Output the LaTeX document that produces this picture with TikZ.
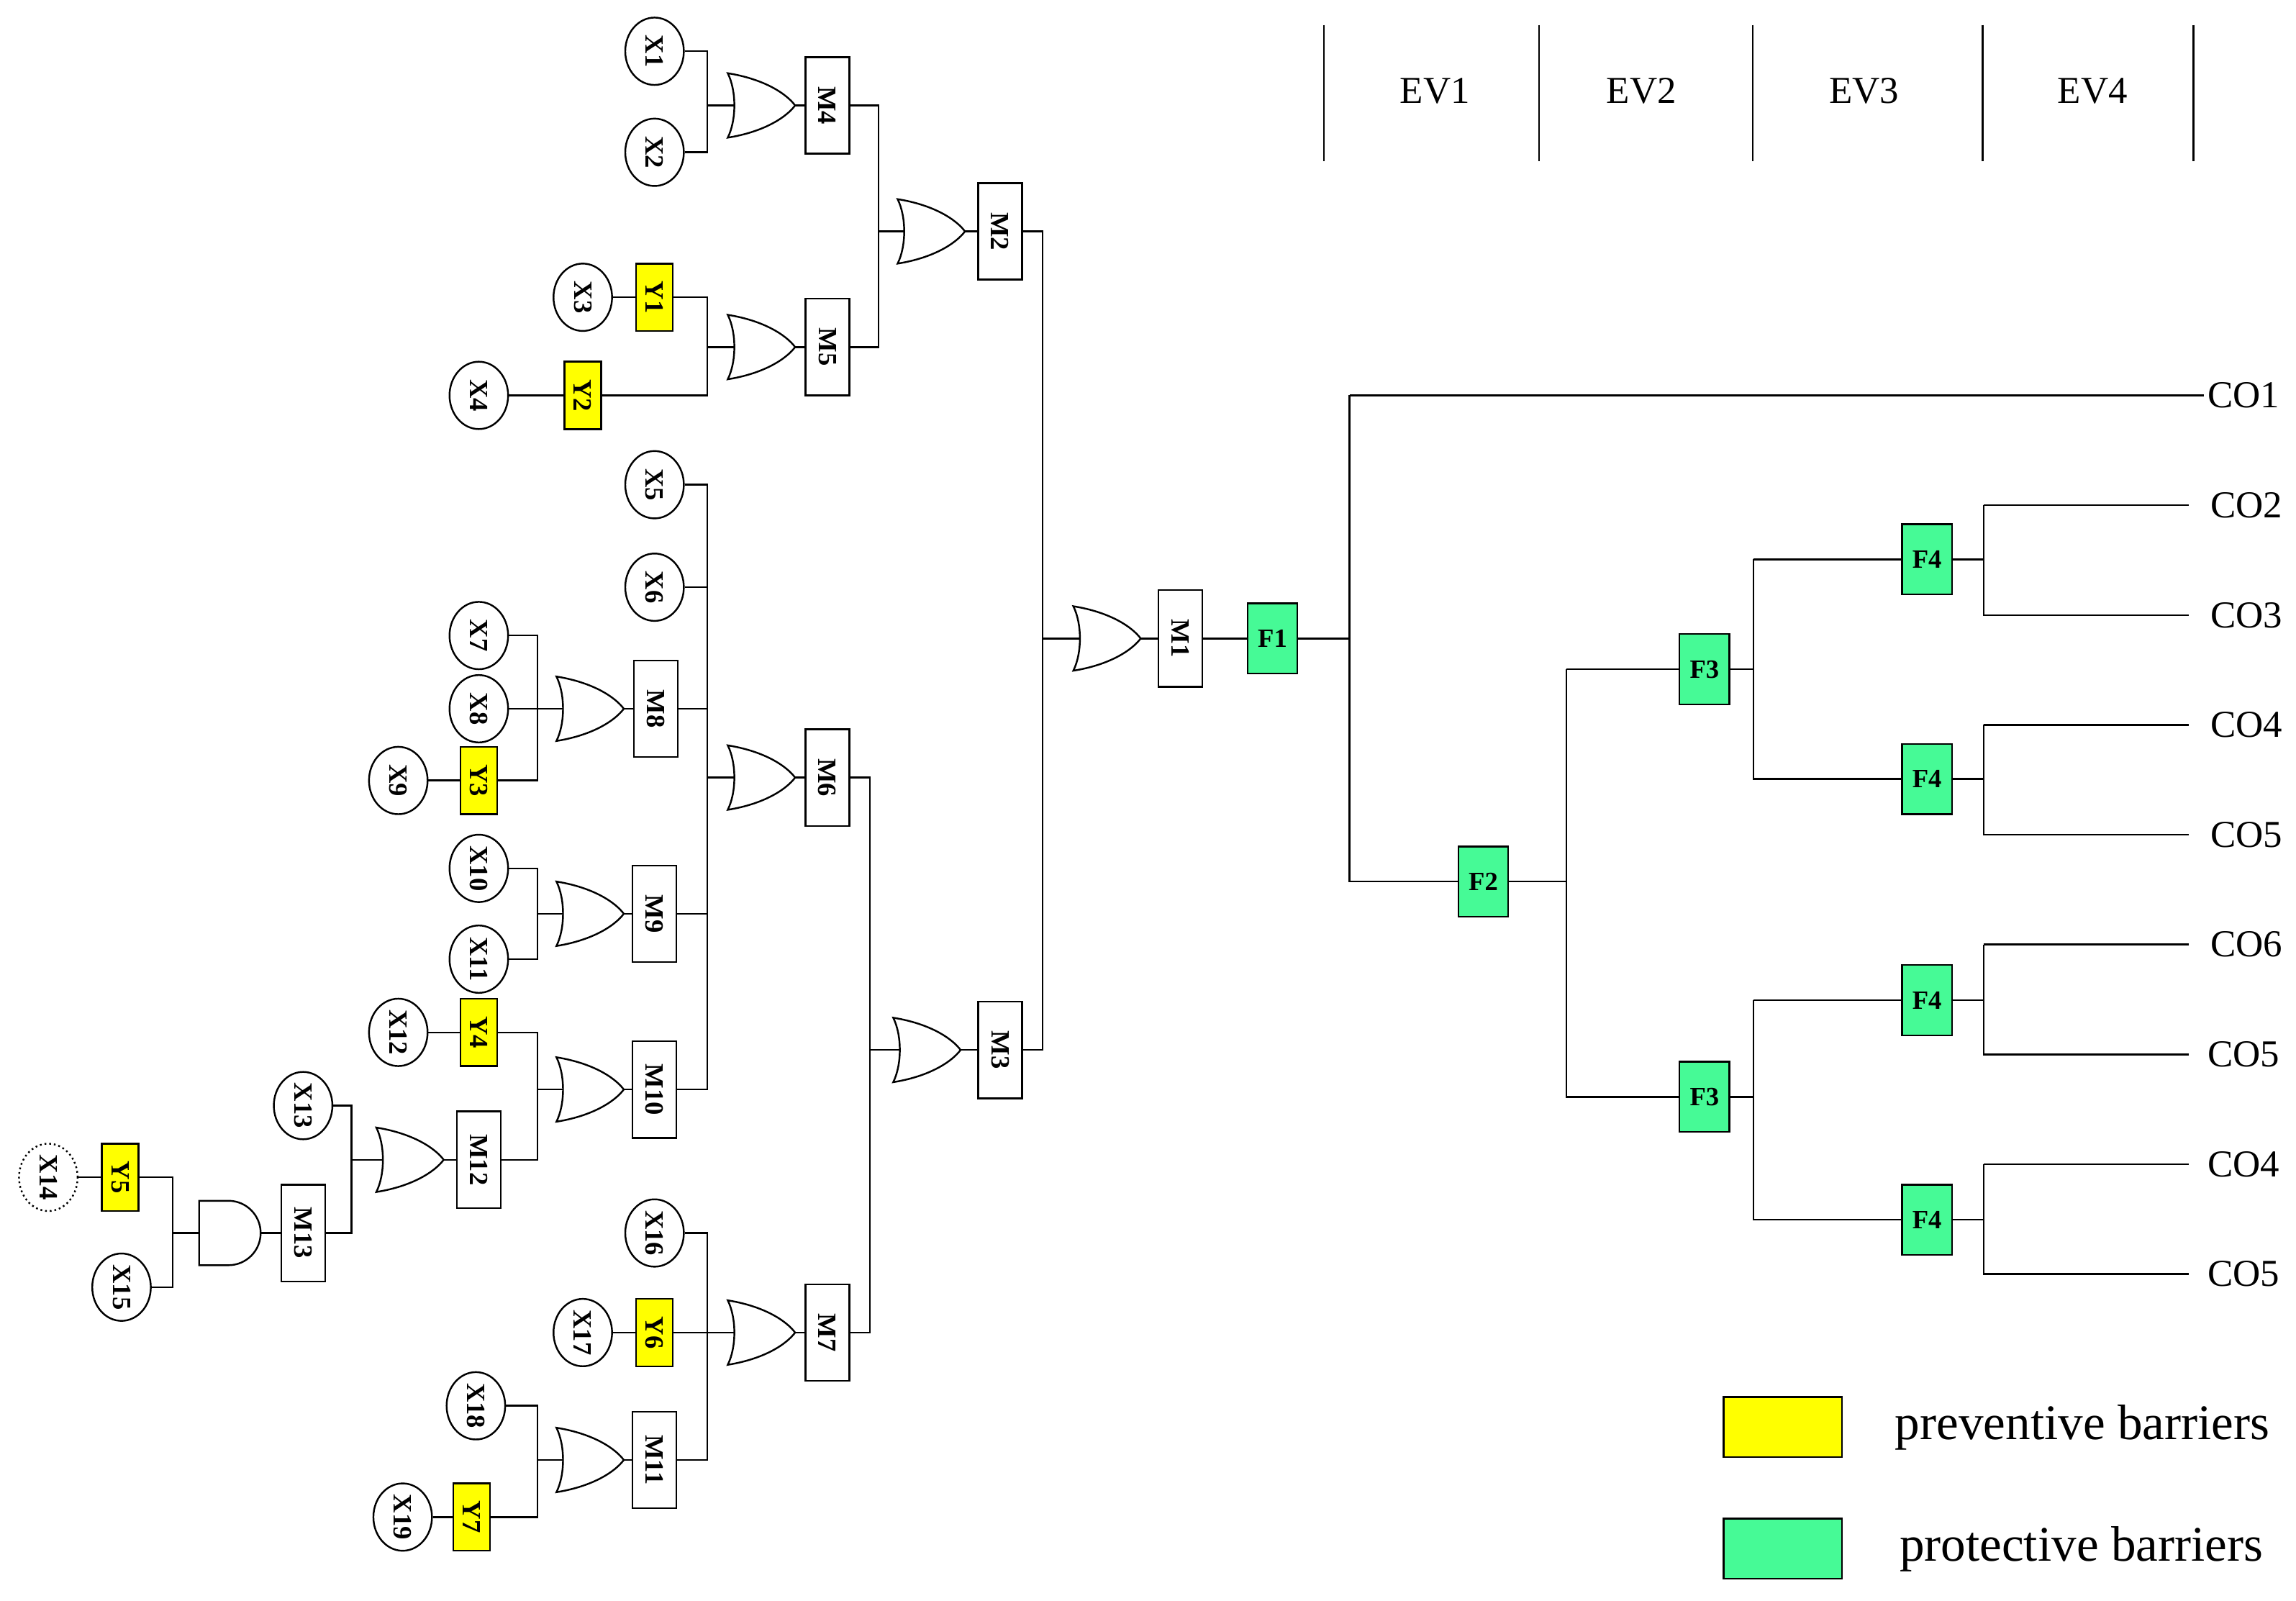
\documentclass[tikz,border=0pt]{standalone}
\usepackage{graphicx}
\usepackage{fontspec}
\setmainfont{Liberation Serif}
\usetikzlibrary{shapes.geometric}
\newcommand\rt[1]{\rotatebox[origin=c]{-90}{#1}}
\definecolor{prev}{RGB}{255,255,0}
\definecolor{prot}{RGB}{70,250,150}
\tikzset{
  lbl/.style={font=\fontsize{9}{9}\bfseries\selectfont, inner sep=0pt},
  circ/.style={lbl, ellipse, draw, fill=white, minimum width=20pt, minimum height=23pt},
  mbox/.style={lbl, draw, fill=white, minimum width=15pt, minimum height=33pt},
  ybox/.style={lbl, draw, fill=prev, minimum width=12.5pt, minimum height=23pt},
  fbox/.style={lbl, draw, fill=prot, minimum width=17pt, minimum height=24pt},
  co/.style={font=\fontsize{13}{13}\selectfont, inner sep=1pt},
  orgate/.pic={
    \draw[fill=white] (0,22) .. controls (6,10) and (6,-10) .. (0,-22)
      .. controls (25,-18) and (40,-8) .. (46,0)
      .. controls (40,8) and (25,18) .. (0,22) -- cycle;
    \coordinate (-in) at (4.5,0);
    \coordinate (-out) at (46,0);
  },
  andgate/.pic={
    \draw[fill=white] (0,-22) -- (20,-22) arc (-90:90:22) -- (0,22) -- cycle;
    \coordinate (-in) at (0,0);
    \coordinate (-out) at (42,0);
  }
}
\begin{document}
\begin{tikzpicture}[x=0.5pt, y=-0.5pt, line width=0.6pt]
\useasboundingbox (0,0) rectangle (1568,1093);
% ---- event tree header
\foreach \x in {904,1051,1197,1354,1498} \draw (\x,17) -- (\x,110);
\node[co] (ev1) at (980,62) {EV1};
\node[co] (ev2) at (1121,62) {EV2};
\node[co] (ev3) at (1273,62) {EV3};
\node[co] (ev4) at (1429,62) {EV4};
% ---- basic events
\node[circ] (X1) at (447,35) {\rt{X1}};
\node[circ] (X2) at (447,104) {\rt{X2}};
\node[circ] (X3) at (398,203) {\rt{X3}};
\node[circ] (X4) at (327,270) {\rt{X4}};
\node[circ] (X5) at (447,331) {\rt{X5}};
\node[circ] (X6) at (447,401) {\rt{X6}};
\node[circ] (X7) at (327,434) {\rt{X7}};
\node[circ] (X8) at (327,484) {\rt{X8}};
\node[circ] (X9) at (272,533) {\rt{X9}};
\node[circ] (X10) at (327,593) {\rt{X10}};
\node[circ] (X11) at (327,655) {\rt{X11}};
\node[circ] (X12) at (272,705) {\rt{X12}};
\node[circ] (X13) at (207,755) {\rt{X13}};
\node[circ, densely dotted] (X14) at (33,804) {\rt{X14}};
\node[circ] (X15) at (83,879) {\rt{X15}};
\node[circ] (X16) at (447,842) {\rt{X16}};
\node[circ] (X17) at (398,910) {\rt{X17}};
\node[circ] (X18) at (325,960) {\rt{X18}};
\node[circ] (X19) at (275,1036) {\rt{X19}};
% ---- preventive barriers
\node[ybox] (Y1) at (447,203) {\rt{Y1}};
\node[ybox] (Y2) at (398,270) {\rt{Y2}};
\node[ybox] (Y3) at (327,533) {\rt{Y3}};
\node[ybox] (Y4) at (327,705) {\rt{Y4}};
\node[ybox] (Y5) at (82,804) {\rt{Y5}};
\node[ybox] (Y6) at (447,910) {\rt{Y6}};
\node[ybox] (Y7) at (322,1036) {\rt{Y7}};
% ---- intermediate events
\node[mbox] (M1) at (806,436) {\rt{M1}};
\node[mbox] (M2) at (683,158) {\rt{M2}};
\node[mbox] (M3) at (683,717) {\rt{M3}};
\node[mbox] (M4) at (565,72) {\rt{M4}};
\node[mbox] (M5) at (565,237) {\rt{M5}};
\node[mbox] (M6) at (565,531) {\rt{M6}};
\node[mbox] (M7) at (565,910) {\rt{M7}};
\node[mbox] (M8) at (448,484) {\rt{M8}};
\node[mbox] (M9) at (447,624) {\rt{M9}};
\node[mbox] (M10) at (447,744) {\rt{M10}};
\node[mbox] (M11) at (447,997) {\rt{M11}};
\node[mbox] (M12) at (327,792) {\rt{M12}};
\node[mbox] (M13) at (207,842) {\rt{M13}};
% ---- gates
\pic (g1) at (733,436) {orgate};
\pic (g2) at (613,158) {orgate};
\pic (g3) at (610,717) {orgate};
\pic (g4) at (497,72) {orgate};
\pic (g5) at (497,237) {orgate};
\pic (g6) at (497,531) {orgate};
\pic (g7) at (497,910) {orgate};
\pic (g8) at (380,484) {orgate};
\pic (g9) at (380,624) {orgate};
\pic (g10) at (380,744) {orgate};
\pic (g11) at (380,997) {orgate};
\pic (g12) at (257,792) {orgate};
\pic (g13) at (136,842) {andgate};
% ---- junctions
\coordinate (j1) at (712,436);
\coordinate (j2) at (600,158);
\coordinate (j3) at (594,717);
\coordinate (j4) at (483,72);
\coordinate (j5) at (483,237);
\coordinate (j6) at (483,531);
\coordinate (j7) at (483,910);
\coordinate (j8) at (367,484);
\coordinate (j9) at (367,624);
\coordinate (j10) at (367,744);
\coordinate (j11) at (367,997);
\coordinate (j12) at (240,792);
\coordinate (j13) at (118,842);
% ---- fault tree wiring
\draw (X3) -- (Y1); \draw (X4) -- (Y2); \draw (X9) -- (Y3);
\draw (X12) -- (Y4); \draw (X14) -- (Y5); \draw (X17) -- (Y6);
\draw (X19) -- (Y7);
\draw (M2.east) -| (j1) -- (g1-in); \draw (M3.east) -| (j1);
\draw (M4.east) -| (j2) -- (g2-in); \draw (M5.east) -| (j2);
\draw (M6.east) -| (j3) -- (g3-in); \draw (M7.east) -| (j3);
\draw (X1.east) -| (j4) -- (g4-in); \draw (X2.east) -| (j4);
\draw (Y1.east) -| (j5) -- (g5-in); \draw (Y2.east) -| (j5);
\draw (X5.east) -| (j6) -- (g6-in); \draw (M10.east) -| (j6);
\draw (X6.east) -- (X6.east -| j6); \draw (M8.east) -- (M8.east -| j6);
\draw (M9.east) -- (M9.east -| j6);
\draw (X16.east) -| (j7) -- (g7-in); \draw (M11.east) -| (j7);
\draw (Y6.east) -- (Y6.east -| j7);
\draw (X7.east) -| (j8) -- (g8-in); \draw (Y3.east) -| (j8);
\draw (X8.east) -- (X8.east -| j8);
\draw (X10.east) -| (j9) -- (g9-in); \draw (X11.east) -| (j9);
\draw (Y4.east) -| (j10) -- (g10-in); \draw (M12.east) -| (j10);
\draw (X18.east) -| (j11) -- (g11-in); \draw (Y7.east) -| (j11);
\draw (X13.east) -| (j12) -- (g12-in); \draw (M13.east) -| (j12);
\draw (Y5.east) -| (j13) -- (g13-in); \draw (X15.east) -| (j13);
\foreach \i in {1,...,13} \draw (g\i-out) -- (M\i.west);
% ---- event tree
\node[fbox] (F1) at (869,436) {F1};
\node[fbox] (F2) at (1013,602) {F2};
\node[fbox] (F3a) at (1164,457) {F3};
\node[fbox] (F3b) at (1164,749) {F3};
\node[fbox] (F4a) at (1316,382) {F4};
\node[fbox] (F4b) at (1316,532) {F4};
\node[fbox] (F4c) at (1316,683) {F4};
\node[fbox] (F4d) at (1316,833) {F4};
\node[co, anchor=west] (C1) at (1505,270) {CO1};
\node[co, anchor=west] (C2) at (1507,345) {CO2};
\node[co, anchor=west] (C3) at (1507,420) {CO3};
\node[co, anchor=west] (C4) at (1507,495) {CO4};
\node[co, anchor=west] (C5) at (1507,570) {CO5};
\node[co, anchor=west] (C6) at (1507,645) {CO6};
\node[co, anchor=west] (C7) at (1505,720) {CO5};
\node[co, anchor=west] (C8) at (1505,795) {CO4};
\node[co, anchor=west] (C9) at (1505,870) {CO5};
\coordinate (e1) at (1495,0);
\draw (M1) -- (F1);
\draw (F1.east) -- ++(35,0) coordinate (k1);
\draw (k1 |- C1) -- (C1.west); \draw (k1 |- C1) |- (F2.west);
\draw (F2.east) -- ++(39,0) coordinate (k2);
\draw (k2 |- F3a) -- (F3a.west); \draw (k2 |- F3a) |- (F3b.west);
\draw (F3a.east) -- ++(16,0) coordinate (k3);
\draw (k3 |- F4a) -- (F4a.west); \draw (k3 |- F4a) |- (F4b.west);
\draw (F3b.east) -- ++(16,0) coordinate (k4);
\draw (k4 |- F4c) -- (F4c.west); \draw (k4 |- F4c) |- (F4d.west);
\foreach \f/\a/\b in {F4a/C2/C3, F4b/C4/C5, F4c/C6/C7, F4d/C8/C9} {
  \draw (\f.east) -- ++(21,0) coordinate (kk);
  \draw (kk |- \a) -- (\a.west -| e1); \draw (kk |- \a) |- (\b.west -| e1);
}
% ---- legend
\draw[fill=prev] (1177,954) rectangle (1258,995);
\draw[fill=prot] (1177,1037) rectangle (1258,1078);
\node[anchor=west, font=\fontsize{17}{17}\selectfont] (lg1) at (1287,975) {preventive barriers};
\node[anchor=west, font=\fontsize{17}{17}\selectfont] (lg2) at (1290,1058) {protective barriers};
\end{tikzpicture}
\end{document}
